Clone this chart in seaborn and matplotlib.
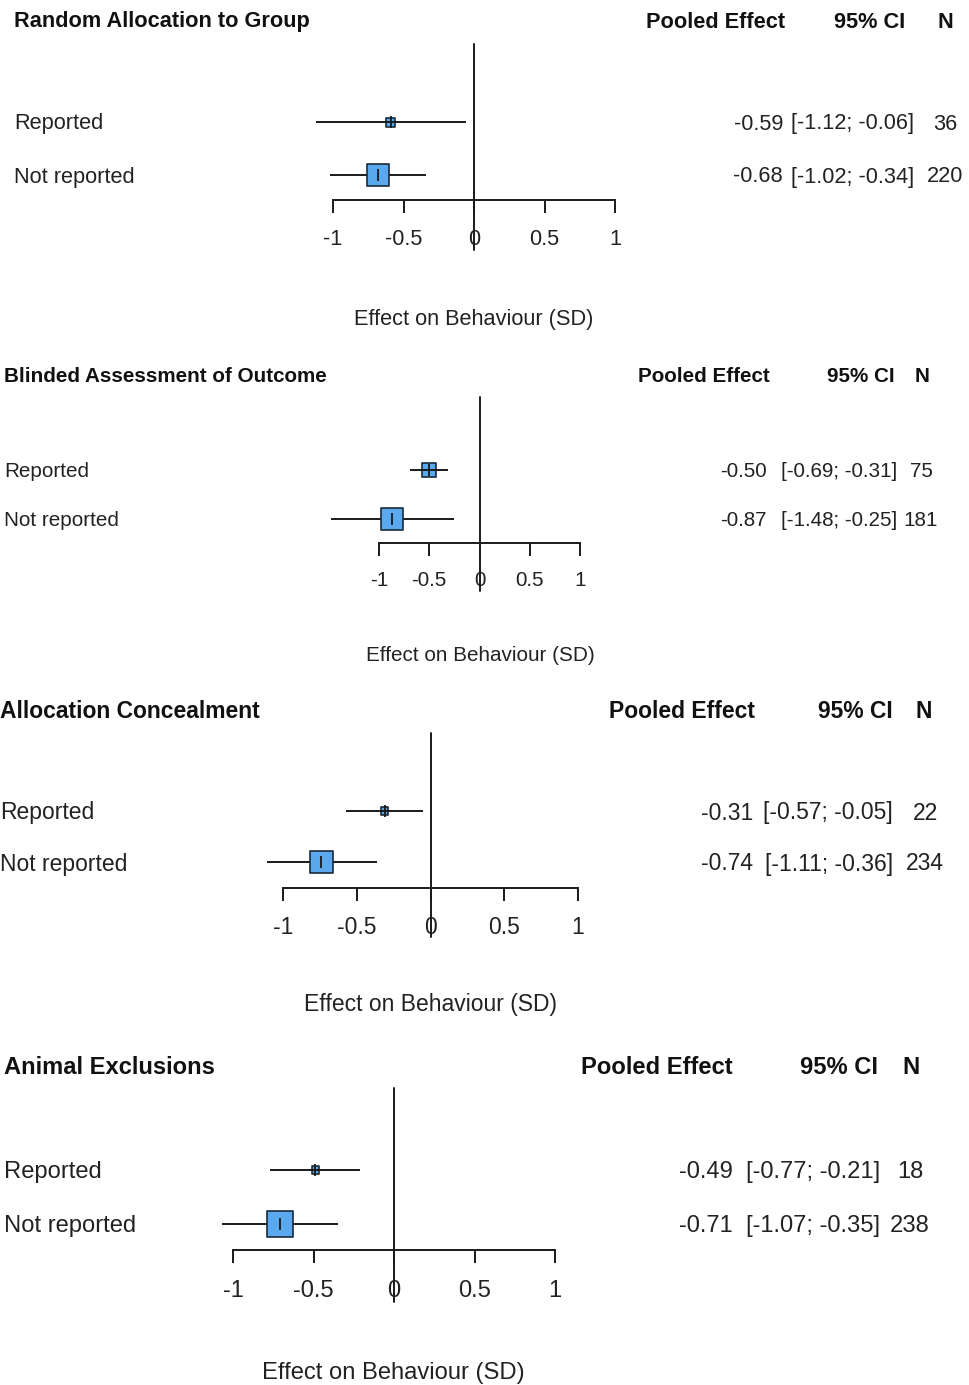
import numpy as np
import pandas as pd
import matplotlib
matplotlib.use("Agg")
import matplotlib.pyplot as plt
import seaborn as sns

# data
titles = ["Random Allocation to Group", "Blinded Assessment of Outcome",
          "Allocation Concealment", "Animal Exclusions"]
row_labels = ["Reported", "Not reported"]
effect = [[-0.59, -0.68], [-0.50, -0.87], [-0.31, -0.74], [-0.49, -0.71]]
lower = [[-1.12, -1.02], [-0.69, -1.48], [-0.57, -1.11], [-0.77, -1.07]]
upper = [[-0.06, -0.34], [-0.31, -0.25], [-0.05, -0.36], [-0.21, -0.35]]
n_studies = [[36, 220], [75, 181], [22, 234], [18, 238]]
tick_values = [-1, -0.5, 0, 0.5, 1]
tick_labels = ["-1", "-0.5", "0", "0.5", "1"]
x_label = "Effect on Behaviour (SD)"

# layout of each panel, in pixels of the 969x1385 canvas
layout = [
    dict(xm1=333, xp1=615, axis_y=200, top_y=44, rows=(122, 175), ref_bottom=250,
         tick_lab=40, xlab=(474, 317), title=(14, 20), lab_x=14, eff_r=783, ci_r=914,
         n_c=945, head=(785, 905, 945), fpx=21.8, k=1.5),
    dict(xm1=379, xp1=580, axis_y=543, top_y=397, rows=(470, 519), ref_bottom=591,
         tick_lab=38, xlab=(480, 653), title=(4, 375), lab_x=4, eff_r=767, ci_r=897,
         n_c=921, head=(770, 895, 922), fpx=20.6, k=1.6),
    dict(xm1=283, xp1=578, axis_y=888, top_y=733, rows=(811, 862), ref_bottom=937,
         tick_lab=39, xlab=(430, 1002), title=(0, 710), lab_x=0, eff_r=753, ci_r=893,
         n_c=925, head=(755, 893, 924), fpx=22.9, k=1.5),
    dict(xm1=233, xp1=555, axis_y=1250, top_y=1088, rows=(1170, 1224), ref_bottom=1302,
         tick_lab=42, xlab=(393, 1371), title=(4, 1065), lab_x=4, eff_r=733, ci_r=880,
         n_c=910, head=(733, 878, 911), fpx=23.8, k=1.68),
]

W, H = 969, 1385
BOX = "#5aa8ee"
INK = "#222222"
LINE = "#1a1a1a"
LW = 1.4
TXT_DY = 2  # text sits a touch lower than its bbox centre

sns.set_style("white")
plt.rcParams["font.family"] = ["Liberation Sans", "DejaVu Sans"]

fig = plt.figure(figsize=(W / 100, H / 100), dpi=100)


def fx(x):
    return x / W


def fy(y):
    return 1 - y / H


for i, lay in enumerate(layout):
    fs = lay["fpx"] * 0.72
    y_rep, y_not = lay["rows"]
    d = y_not - y_rep
    ax = fig.add_axes([fx(lay["xm1"]), fy(lay["axis_y"]),
                       (lay["xp1"] - lay["xm1"]) / W, (lay["axis_y"] - lay["top_y"]) / H])
    ax.set_xlim(-1, 1)
    ax.set_ylim((lay["axis_y"] - y_rep) / d, (lay["top_y"] - y_rep) / d)
    ax.patch.set_alpha(0)

    df = pd.DataFrame({"row": [0, 1], "effect": effect[i], "lower": lower[i],
                       "upper": upper[i], "n": n_studies[i]})
    side_px = lay["k"] * np.sqrt(df["n"].to_numpy())
    small = df["n"] < 100

    # confidence intervals
    ax.hlines(df.loc[~small, "row"], df.loc[~small, "lower"], df.loc[~small, "upper"],
              color=LINE, lw=LW, zorder=2, clip_on=False)
    ax.hlines(df.loc[small, "row"], df.loc[small, "lower"], df.loc[small, "upper"],
              color=LINE, lw=LW, zorder=4, clip_on=False)
    # weighted squares
    sns.scatterplot(data=df, x="effect", y="row", marker="s", s=(side_px * 0.72) ** 2,
                    color=BOX, edgecolor="#1c2a3a", linewidth=1.2, zorder=3,
                    clip_on=False, legend=False, ax=ax)
    # estimate tick
    ax.scatter(df["effect"], df["row"], marker="|", s=(12 * 0.72) ** 2,
               color=LINE, linewidths=1.3, zorder=5, clip_on=False)
    # reference line at zero
    ax.plot([0, 0], [(lay["top_y"] - y_rep) / d, (lay["ref_bottom"] - y_rep) / d],
            color=LINE, lw=LW, zorder=1, clip_on=False)

    for side in ["top", "left", "right"]:
        ax.spines[side].set_visible(False)
    ax.spines["bottom"].set_bounds(-1, 1)
    ax.spines["bottom"].set_linewidth(LW)
    ax.spines["bottom"].set_color(LINE)
    ax.set_yticks([])
    ax.set_xticks(tick_values, labels=tick_labels)
    tick_len = 13 * 0.72
    ax.tick_params(axis="x", bottom=True, direction="out", length=tick_len, width=LW,
                   color=LINE, labelsize=fs, labelcolor=INK,
                   pad=(lay["tick_lab"] - 13 - lay["fpx"] * 0.5) * 0.72)
    ax.set_xlabel("")
    ax.set_ylabel("")

    # text
    fig.text(fx(lay["title"][0]), fy(lay["title"][1] + TXT_DY), titles[i], fontsize=fs,
             fontweight="bold", color="#111111", ha="left", va="center")
    h_pe, h_ci, h_n = lay["head"]
    hy = fy(lay["title"][1] + TXT_DY)
    fig.text(fx(h_pe), hy, "Pooled Effect", fontsize=fs, fontweight="bold",
             color="#111111", ha="right", va="center")
    fig.text(fx(h_ci), hy, "95% CI", fontsize=fs, fontweight="bold",
             color="#111111", ha="right", va="center")
    fig.text(fx(h_n), hy, "N", fontsize=fs, fontweight="bold",
             color="#111111", ha="center", va="center")
    for j, ypx in enumerate(lay["rows"]):
        ty = fy(ypx + TXT_DY)
        fig.text(fx(lay["lab_x"]), ty, row_labels[j], fontsize=fs, color=INK,
                 ha="left", va="center")
        fig.text(fx(lay["eff_r"]), ty, f"{effect[i][j]:.2f}", fontsize=fs,
                 color=INK, ha="right", va="center")
        fig.text(fx(lay["ci_r"]), ty, f"[{lower[i][j]:.2f}; {upper[i][j]:.2f}]",
                 fontsize=fs, color=INK, ha="right", va="center")
        fig.text(fx(lay["n_c"]), ty, str(n_studies[i][j]), fontsize=fs,
                 color=INK, ha="center", va="center")
    fig.text(fx(lay["xlab"][0]), fy(lay["xlab"][1] + TXT_DY), x_label, fontsize=fs,
             color=INK, ha="center", va="center")

fig.savefig("out.png", dpi=100, facecolor="white")
